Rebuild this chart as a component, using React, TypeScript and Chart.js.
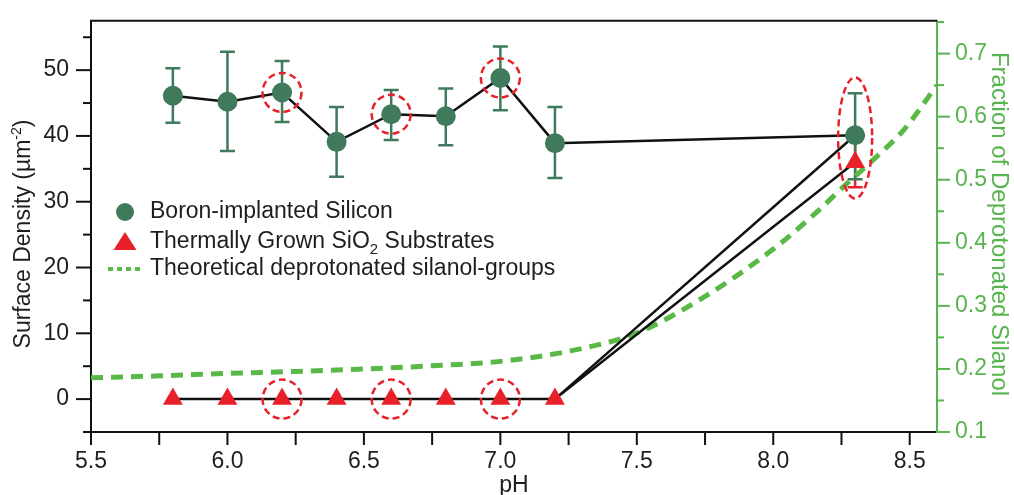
import React, { useEffect, useRef } from 'react';
import { Chart, registerables } from 'chart.js';

Chart.register(...registerables);

// ---------- data ----------
const phValues = [5.8, 6.0, 6.2, 6.4, 6.6, 6.8, 7.0, 7.2, 8.3];
const boronDensity = [46.1, 45.2, 46.6, 39.1, 43.3, 43.0, 48.8, 38.9, 40.1];
const boronErrLow = [42.0, 37.7, 42.1, 33.8, 39.4, 38.6, 43.9, 33.6, 33.4];
const boronErrHigh = [50.3, 52.8, 51.4, 44.4, 47.0, 47.2, 53.6, 44.4, 46.5];
const sio2Density = [0, 0, 0, 0, 0, 0, 0, 0, 36.0];
const sio2ErrLow = [0, 0, 0, 0, 0, 0, 0, 0, 32.2];
const sio2ErrHigh = [0, 0, 0, 0, 0, 0, 0, 0, 39.8];
const theoryPh = [5.5, 5.75, 6.0, 6.25, 6.5, 6.75, 7.0, 7.25, 7.5, 7.75, 8.0, 8.15, 8.26, 8.37, 8.48, 8.6];
const theoryFraction = [0.186, 0.189, 0.193, 0.196, 0.2, 0.205, 0.212, 0.228, 0.257, 0.315, 0.39, 0.445, 0.49, 0.533, 0.58, 0.65];
const highlightedPh = [6.2, 6.6, 7.0];
const ellipsePh = 8.3;
const ellipseRange = [30.5, 48.9];
const xTickValues = [5.5, 5.75, 6.0, 6.25, 6.5, 6.75, 7.0, 7.25, 7.5, 7.75, 8.0, 8.25, 8.5];
const yTickValues = [-5, 0, 5, 10, 15, 20, 25, 30, 35, 40, 45, 50, 55];
const y2TickValues = [0.1, 0.15, 0.2, 0.25, 0.3, 0.35, 0.4, 0.45, 0.5, 0.55, 0.6, 0.65, 0.7, 0.75];

const legendLabels = ['Boron-implanted Silicon', 'Thermally Grown SiO', ' Substrates', 'Theoretical deprotonated silanol-groups'];
const xTitle = 'pH';
const yTitle = ['Surface Density (µm', '-2', ')'];
const y2Title = 'Fraction of Deprotonated Silanol';

// ---------- style ----------
const FONT = '"Liberation Sans", Arial, Helvetica, sans-serif';
const GREEN_DOT = '#3f7a5c';
const RED = '#e8202a';
const CURVE_GREEN = '#5ab946';
const AXIS_GREEN = '#58b44e';
const TEXT = '#1e1e1e';

const isMultiple = (v: number, step: number) => Math.abs(v / step - Math.round(v / step)) < 1e-6;

const decorPlugin = {
  id: 'decor',
  beforeDatasetsDraw(chart: any) {
    const ctx = chart.ctx;
    const x = chart.scales.x;
    const y = chart.scales.y;
    ctx.save();
    const drawBars = (lows: number[], highs: number[], color: string) => {
      ctx.strokeStyle = color;
      ctx.lineWidth = 2.5;
      phValues.forEach((p, i) => {
        if (highs[i] - lows[i] < 0.01) return;
        const px = x.getPixelForValue(p);
        const top = y.getPixelForValue(highs[i]);
        const bot = y.getPixelForValue(lows[i]);
        ctx.beginPath();
        ctx.moveTo(px, top);
        ctx.lineTo(px, bot);
        ctx.moveTo(px - 7.5, top);
        ctx.lineTo(px + 7.5, top);
        ctx.moveTo(px - 7.5, bot);
        ctx.lineTo(px + 7.5, bot);
        ctx.stroke();
      });
    };
    drawBars(sio2ErrLow, sio2ErrHigh, RED);
    drawBars(boronErrLow, boronErrHigh, GREEN_DOT);
    ctx.restore();
  },
  afterDatasetsDraw(chart: any) {
    const ctx = chart.ctx;
    const x = chart.scales.x;
    const y = chart.scales.y;
    ctx.save();
    ctx.strokeStyle = RED;
    ctx.lineWidth = 2.5;
    ctx.setLineDash([7, 4]);
    highlightedPh.forEach((p) => {
      const i = phValues.indexOf(p);
      const px = x.getPixelForValue(p);
      [boronDensity[i], sio2Density[i]].forEach((v) => {
        ctx.beginPath();
        ctx.arc(px, y.getPixelForValue(v), 19.5, 0, Math.PI * 2);
        ctx.stroke();
      });
    });
    const ex = x.getPixelForValue(ellipsePh);
    const eTop = y.getPixelForValue(ellipseRange[1]);
    const eBot = y.getPixelForValue(ellipseRange[0]);
    ctx.beginPath();
    ctx.ellipse(ex, (eTop + eBot) / 2, 17, (eBot - eTop) / 2, 0, 0, Math.PI * 2);
    ctx.stroke();
    ctx.restore();
  },
  afterDraw(chart: any) {
    const ctx = chart.ctx;
    const { left, right, top, bottom } = chart.chartArea;
    const x = chart.scales.x;
    const y = chart.scales.y;
    const y2 = chart.scales.y2;
    ctx.save();
    ctx.setLineDash([]);
    // top frame line
    ctx.strokeStyle = '#111';
    ctx.lineWidth = 2;
    ctx.beginPath();
    ctx.moveTo(left - 1, top);
    ctx.lineTo(right, top);
    ctx.stroke();
    // ticks
    ctx.lineWidth = 2;
    x.ticks.forEach((t: any) => {
      const px = x.getPixelForValue(t.value);
      ctx.beginPath();
      ctx.moveTo(px, bottom);
      ctx.lineTo(px, bottom + 13);
      ctx.stroke();
    });
    y.ticks.forEach((t: any) => {
      const py = y.getPixelForValue(t.value);
      const len = isMultiple(t.value, 10) ? 15 : 8;
      ctx.beginPath();
      ctx.moveTo(left, py);
      ctx.lineTo(left - len, py);
      ctx.stroke();
    });
    ctx.strokeStyle = AXIS_GREEN;
    y2.ticks.forEach((t: any) => {
      const py = y2.getPixelForValue(t.value);
      const len = isMultiple(t.value, 0.1) ? 13 : 7;
      ctx.beginPath();
      ctx.moveTo(right, py);
      ctx.lineTo(right + len, py);
      ctx.stroke();
    });
    // axis titles
    ctx.fillStyle = TEXT;
    ctx.font = `23px ${FONT}`;
    ctx.textAlign = 'center';
    ctx.textBaseline = 'middle';
    ctx.fillText(xTitle, (left + right) / 2, 486);

    ctx.save();
    ctx.translate(24, 234);
    ctx.rotate(-Math.PI / 2);
    ctx.textAlign = 'left';
    ctx.font = `23px ${FONT}`;
    const w1 = ctx.measureText(yTitle[0]).width;
    const w3 = ctx.measureText(yTitle[2]).width;
    ctx.font = `14px ${FONT}`;
    const w2 = ctx.measureText(yTitle[1]).width;
    let sx = -(w1 + w2 + w3) / 2;
    ctx.font = `23px ${FONT}`;
    ctx.fillText(yTitle[0], sx, 0);
    sx += w1;
    ctx.font = `14px ${FONT}`;
    ctx.fillText(yTitle[1], sx, -7);
    sx += w2;
    ctx.font = `23px ${FONT}`;
    ctx.fillText(yTitle[2], sx, 0);
    ctx.restore();

    ctx.save();
    ctx.translate(999, 224);
    ctx.rotate(Math.PI / 2);
    ctx.fillStyle = AXIS_GREEN;
    ctx.font = `24px ${FONT}`;
    ctx.textAlign = 'center';
    ctx.fillText(y2Title, 0, 0);
    ctx.restore();

    // legend
    const lx = 125;
    const rows = [212, 242, 269];
    ctx.fillStyle = GREEN_DOT;
    ctx.beginPath();
    ctx.arc(lx, rows[0], 9, 0, Math.PI * 2);
    ctx.fill();
    ctx.fillStyle = RED;
    ctx.beginPath();
    ctx.moveTo(lx, rows[1] - 10);
    ctx.lineTo(lx + 11.5, rows[1] + 8);
    ctx.lineTo(lx - 11.5, rows[1] + 8);
    ctx.closePath();
    ctx.fill();
    ctx.strokeStyle = CURVE_GREEN;
    ctx.lineWidth = 4;
    ctx.setLineDash([5, 4]);
    ctx.beginPath();
    ctx.moveTo(108, rows[2]);
    ctx.lineTo(143, rows[2]);
    ctx.stroke();
    ctx.setLineDash([]);

    ctx.fillStyle = TEXT;
    ctx.textAlign = 'left';
    ctx.textBaseline = 'middle';
    ctx.font = `23px ${FONT}`;
    const tx = 150;
    ctx.fillText(legendLabels[0], tx, rows[0]);
    ctx.fillText(legendLabels[1], tx, rows[1]);
    const wa = ctx.measureText(legendLabels[1]).width;
    ctx.font = `15px ${FONT}`;
    ctx.fillText('2', tx + wa, rows[1] + 8);
    const wb = ctx.measureText('2').width;
    ctx.font = `23px ${FONT}`;
    ctx.fillText(legendLabels[2], tx + wa + wb, rows[1]);
    ctx.fillText(legendLabels[3], tx, rows[2]);
    ctx.restore();
  },
};

export default function App() {
  const canvasRef = useRef<HTMLCanvasElement | null>(null);

  useEffect(() => {
    const canvas = canvasRef.current;
    if (!canvas) return;
    const tickFont = { family: FONT, size: 23 };
    const chart = new Chart(canvas, {
      type: 'line',
      data: {
        datasets: [
          {
            label: 'Boron-implanted Silicon',
            data: phValues.map((p, i) => ({ x: p, y: boronDensity[i] })),
            borderColor: '#111',
            borderWidth: 2.5,
            pointStyle: 'circle',
            pointRadius: 10,
            pointBackgroundColor: GREEN_DOT,
            pointBorderWidth: 0,
            yAxisID: 'y',
            order: 1,
          },
          {
            label: 'Thermally Grown SiO2 Substrates',
            data: phValues.map((p, i) => ({ x: p, y: sio2Density[i] })),
            borderColor: '#111',
            borderWidth: 2.5,
            pointStyle: 'triangle',
            pointRadius: 11.5,
            pointBackgroundColor: RED,
            pointBorderWidth: 0,
            yAxisID: 'y',
            order: 0,
          },
          {
            label: 'connector',
            data: [
              { x: phValues[7], y: sio2Density[7] },
              { x: phValues[8], y: boronDensity[8] },
            ],
            borderColor: '#111',
            borderWidth: 2.5,
            pointRadius: 0,
            yAxisID: 'y',
            order: 2,
          },
          {
            label: 'Theoretical deprotonated silanol-groups',
            data: theoryPh.map((p, i) => ({ x: p, y: theoryFraction[i] })),
            borderColor: CURVE_GREEN,
            borderWidth: 5,
            borderDash: [12, 8],
            pointRadius: 0,
            cubicInterpolationMode: 'monotone',
            yAxisID: 'y2',
            order: 3,
          },
        ],
      },
      options: {
        animation: false,
        responsive: true,
        maintainAspectRatio: false,
        layout: { padding: { top: 17, left: 0, right: 0, bottom: 0 } },
        plugins: { legend: { display: false }, tooltip: { enabled: false }, title: { display: false } },
        scales: {
          x: {
            type: 'linear',
            min: 5.5,
            max: 8.6,
            afterBuildTicks: (s: any) => {
              s.ticks = xTickValues.map((v) => ({ value: v }));
            },
            afterFit: (s: any) => {
              s.height = 63;
            },
            grid: { drawOnChartArea: false, drawTicks: true, tickLength: 13, tickColor: 'rgba(0,0,0,0)' },
            border: { color: '#111', width: 2 },
            ticks: {
              font: tickFont,
              color: TEXT,
              padding: 3,
              maxRotation: 0,
              autoSkip: false,
              callback: (v: any) => (isMultiple(Number(v), 0.5) ? Number(v).toFixed(1) : ''),
            },
          },
          y: {
            type: 'linear',
            position: 'left',
            min: -5,
            max: 57.5,
            afterBuildTicks: (s: any) => {
              s.ticks = yTickValues.map((v) => ({ value: v }));
            },
            afterFit: (s: any) => {
              s.width = 91;
            },
            grid: { drawOnChartArea: false, drawTicks: true, tickLength: 15, tickColor: 'rgba(0,0,0,0)' },
            border: { color: '#111', width: 2 },
            ticks: {
              font: tickFont,
              color: TEXT,
              padding: 7,
              autoSkip: false,
              callback: (v: any) => (isMultiple(Number(v), 10) ? String(Math.round(Number(v))) : ''),
            },
          },
          y2: {
            type: 'linear',
            position: 'right',
            min: 0.1,
            max: 0.752,
            afterBuildTicks: (s: any) => {
              s.ticks = y2TickValues.map((v) => ({ value: v }));
            },
            afterFit: (s: any) => {
              s.width = 77;
            },
            grid: { drawOnChartArea: false, drawTicks: true, tickLength: 13, tickColor: 'rgba(0,0,0,0)' },
            border: { color: AXIS_GREEN, width: 2 },
            ticks: {
              font: tickFont,
              color: AXIS_GREEN,
              padding: 5,
              autoSkip: false,
              callback: (v: any) => (isMultiple(Number(v), 0.1) ? Number(v).toFixed(1) : ''),
            },
          },
        },
      },
      plugins: [decorPlugin],
    } as any);
    return () => chart.destroy();
  }, []);

  return (
    <div style={{ position: 'absolute', left: 0, top: 0, width: 1014, height: 495, background: '#fff' }}>
      <canvas ref={canvasRef} />
    </div>
  );
}
